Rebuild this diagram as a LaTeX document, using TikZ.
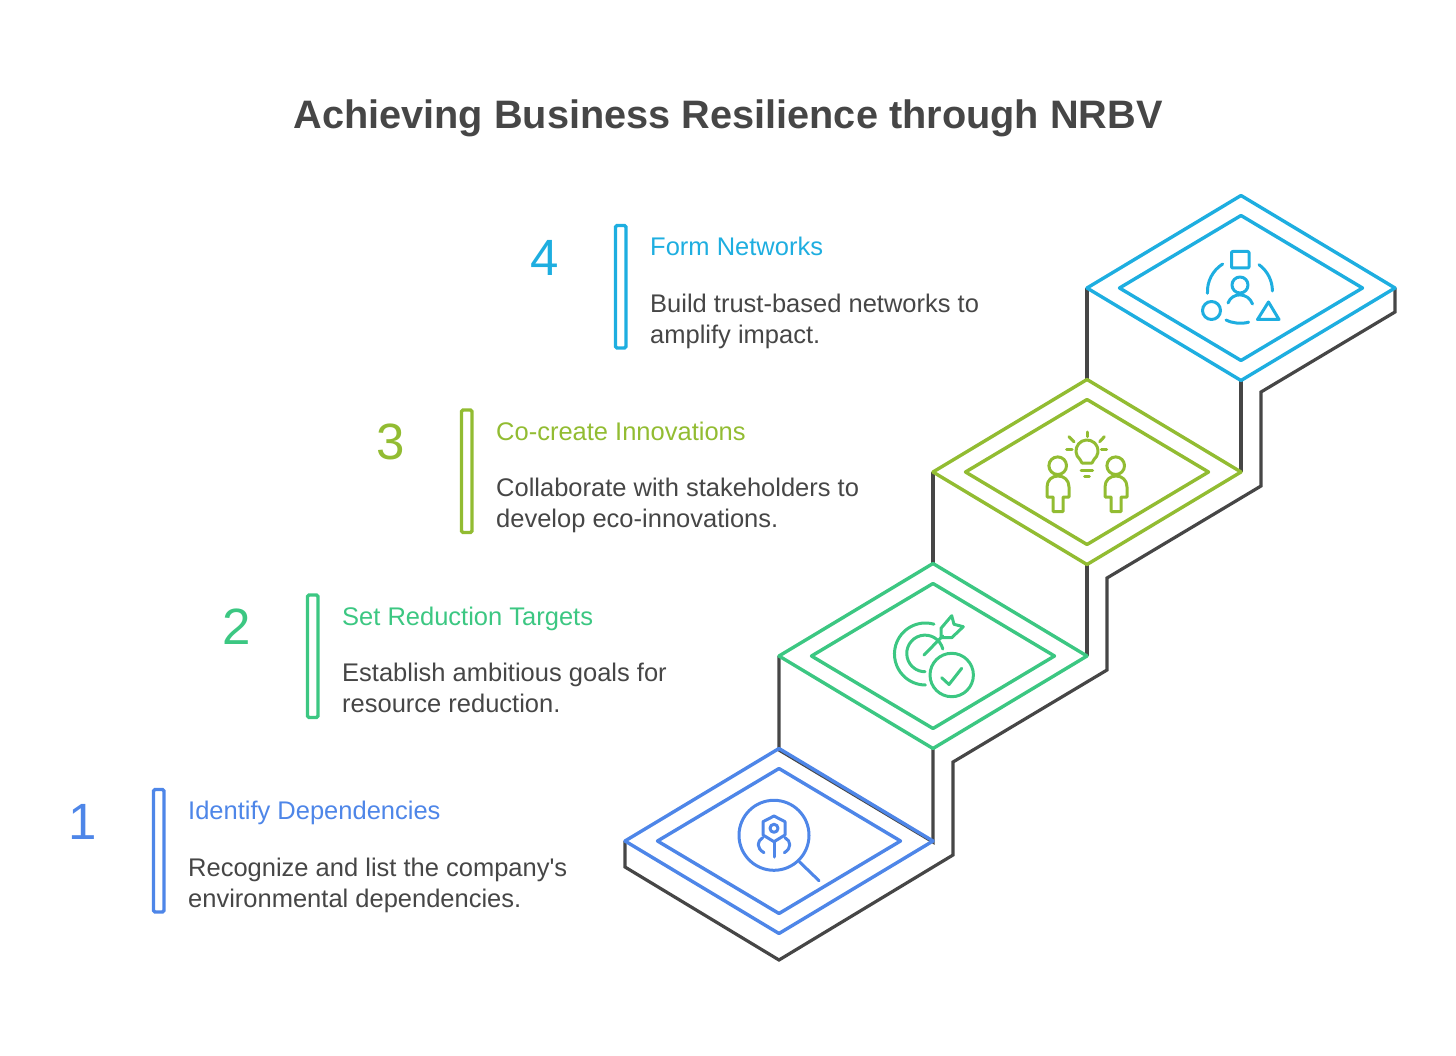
\documentclass[tikz,border=0pt]{standalone}
\usepackage{fontspec}
\setmainfont{Liberation Sans}
\newfontfamily\plainfont{Liberation Sans}
\definecolor{stepblue}{RGB}{78,134,232}
\definecolor{stepgreen}{RGB}{60,199,130}
\definecolor{stepolive}{RGB}{146,188,50}
\definecolor{stepcyan}{RGB}{30,174,224}
\definecolor{inkgray}{RGB}{70,70,70}
\tikzset{
  wall/.style={line width=3.2pt, draw=inkgray, line join=miter},
  plate/.style={line width=3.4pt, line join=round},
  glyph/.style={line width=3pt, line cap=round, line join=round},
  marker/.style={line width=3.4pt, rounded corners=1.5pt},
  titletext/.style={font=\fontsize{39.7}{48}\selectfont\bfseries, text=inkgray},
  numtext/.style={font=\fontsize{51}{56}\selectfont},
  headtext/.style={font=\fontsize{25.5}{30}\selectfont, anchor=base west, inner sep=0pt},
  desctext/.style={font=\fontsize{25.5}{31}\selectfont, text=inkgray, align=left, anchor=west, inner sep=0pt,
    execute at begin node=\strut, execute at end node=\strut},
}
\begin{document}
\begin{tikzpicture}[x=1pt,y=-1pt]
  \useasboundingbox (0,0) rectangle (1456,1056);

  \node[titletext] (title) at (728,118) {Achieving Business Resilience through NRBV};

  % walls behind the plates
  \draw[wall] (1395,288)--(1395,312)--(1261,392)--(1261,486)--(1107,578)--(1107,670)--(953,762)--(953,855)--(779,960)--(625,867)--(625,841);
  \draw[wall] (1087,288)--(1087,380);
  \draw[wall] (1241,380)--(1241,472);
  \draw[wall] (933,472)--(933,564);
  \draw[wall] (1087,564)--(1087,656);
  \draw[wall] (779,656)--(779,750)--(933,842)--(933,748);

  % plates
  \foreach \cx/\cy/\col in {1241/288/stepcyan,1087/472/stepolive,933/656/stepgreen,779/841/stepblue} {
    \draw[plate,\col] (\cx,\cy-92.5)--(\cx+154,\cy)--(\cx,\cy+92.5)--(\cx-154,\cy)--cycle;
    \draw[plate,\col] (\cx,\cy-72.5)--(\cx+121.5,\cy)--(\cx,\cy+72.5)--(\cx-121.5,\cy)--cycle;
  }

  % labels
  \foreach \n/\tx/\ty/\col/\head/\desc in {
    1/81/821.5/stepblue/{Identify Dependencies}/{Recognize and list the company{\plainfont'}s\\environmental dependencies.},
    2/235/627/stepgreen/{Set Reduction Targets}/{Establish ambitious goals for\\resource reduction.},
    3/389/442/stepolive/{Co-create Innovations}/{Collaborate with stakeholders to\\develop eco-innovations.},
    4/543/257.5/stepcyan/{Form Networks}/{Build trust-based networks to\\amplify impact.}} {
    \node[numtext,text=\col] (num\n) at (\tx+1.5,\ty) {\n};
    \draw[marker,draw=\col] (\tx+72.5,\ty-32)rectangle(\tx+83,\ty+90.5);
    \node[headtext,text=\col] (head\n) at (\tx+107,\ty-2) {\head};
    \node[desctext] (desc\n) at (\tx+107,\ty+65.5) {\desc};
  }

  % network icon
  \begin{scope}[glyph,stepcyan]
    \draw[rounded corners=1pt] (1231.5,251.5) rectangle (1249,268);
    \draw (1240,285) circle[radius=8pt];
    \draw (1228,303) .. controls (1232,292) and (1248,292) .. (1252.5,304);
    \draw (1211.5,310.5) circle[radius=9pt];
    \draw (1268.5,302)--(1257.5,319.5)--(1279,319.5)--cycle;
    \draw (1222.7,264) arc[start angle=122,end angle=183,radius=32.5pt];
    \draw (1259,264.7) arc[start angle=54,end angle=0,radius=32.5pt];
    \draw (1226,320) arc[start angle=244,end angle=285,radius=32.5pt];
  \end{scope}

  % bulb and people icon
  \begin{scope}[glyph,stepolive]
    \draw (1082,463)--(1079.9,459.4) arc[start angle=230,end angle=-50,radius=11pt]--(1092,463)--cycle;
    \draw (1081,470)--(1092.7,470);
    \draw (1084.5,476.7)--(1089.3,476.7);
    \draw (1087,432)--(1087,436.7);
    \draw (1069,436.7)--(1074,441.7);
    \draw (1104.3,436.7)--(1099.7,441.7);
    \draw (1066.7,449.3)--(1072,449.3);
    \draw (1101.3,449.3)--(1106.7,449.3);
    \foreach \dx in {0,58} {
      \draw (1057.7+\dx,465.7) circle[radius=8.8pt];
      \draw (1053+\dx,511.5)--(1053+\dx,497)--(1047+\dx,497)--(1047+\dx,487) .. controls (1047+\dx,480) and (1052+\dx,476) .. (1058+\dx,476) .. controls (1064+\dx,476) and (1069+\dx,480) .. (1069+\dx,487)--(1069+\dx,497)--(1063+\dx,497)--(1063+\dx,511.5)--cycle;
    }
  \end{scope}

  % target icon
  \begin{scope}[glyph,stepgreen]
    \draw (934,624.2) arc[start angle=74,end angle=270,radius=31pt];
    \draw (942.8,649) arc[start angle=14,end angle=270,radius=18.3pt];
    \draw (924,655)--(942.7,636);
    \draw (941,637.7)--(941,628.3)--(951.7,615.7)--(954,624.3)--(963.3,626.7)--(951.7,637.7)--cycle;
    \draw (951.7,675) circle[radius=21.7pt];
    \draw (941.7,677.7)--(949,684.5)--(961.7,668.3);
  \end{scope}

  % magnifier icon
  \begin{scope}[glyph,stepblue]
    \draw (774,835.3) circle[radius=35pt];
    \draw (799.3,861.7)--(819,880.7);
    \draw (774,816)--(785,821.7)--(785,835)--(774,841.7)--(763,835)--(763,821.7)--cycle;
    \draw (774,828.3) circle[radius=4pt];
    \draw (774,841.7)--(774,857);
    \draw (762.7,837.7) .. controls (757,841) and (756,848) .. (764,852.7);
    \draw (785,837.7) .. controls (791,841) and (792,848) .. (784.3,852.7);
  \end{scope}
\end{tikzpicture}
\end{document}
